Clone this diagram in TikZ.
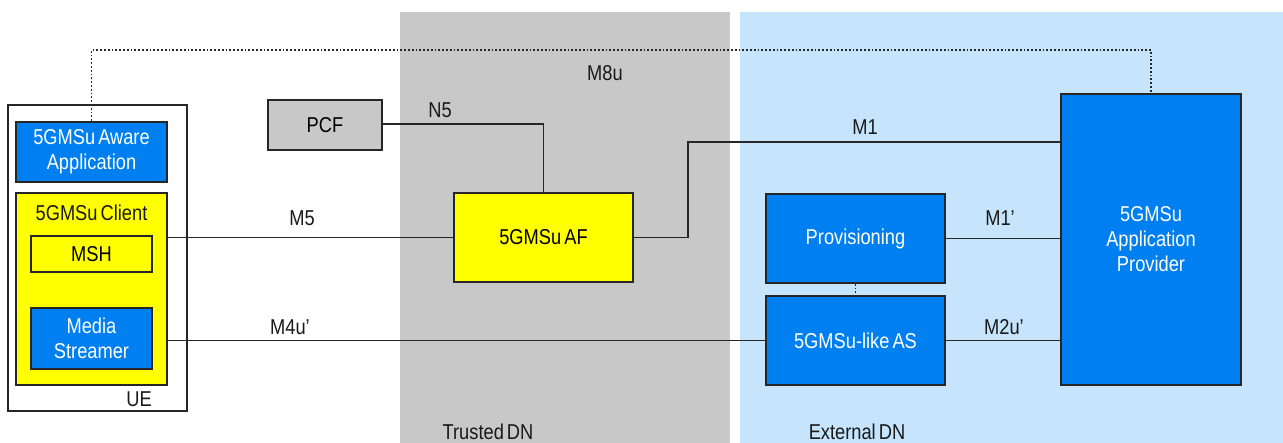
\documentclass[tikz,border=0pt]{standalone}
\usepackage{fontspec}
\setmainfont{Liberation Sans}[FakeStretch=0.85,WordSpace=0.6]
\definecolor{msblue}{RGB}{0,128,240}
\definecolor{bandblue}{RGB}{198,228,252}
\definecolor{bandgray}{RGB}{200,200,200}
\definecolor{boxgray}{RGB}{200,200,200}
\definecolor{msyellow}{RGB}{255,255,0}
\begin{document}
\begin{tikzpicture}[x=1pt,y=-1pt,
  font=\fontsize{21.5}{25}\selectfont,
  box/.style={draw=black!85,line width=1.8pt,inner sep=0pt,align=center},
  bluebox/.style={box,fill=msblue,text=white},
  yellowbox/.style={box,fill=msyellow},
  link/.style={draw=black!85,line width=1.8pt},
  dotlink/.style={draw=black!85,line width=1.8pt,dotted},
  lbl/.style={inner sep=0pt,text=black!90}]
\useasboundingbox (0,0) rectangle (1283,443);
% bands
\fill[bandgray] (400,12) rectangle (730,443);
\fill[bandblue] (740,12) rectangle (1283,443);
\node[lbl] (trusted) at (488,432) {Trusted DN};
\node[lbl] (external) at (857,432) {External DN};
% UE
\node[box,fill=white,minimum width=179,minimum height=306] (ue) at (97.5,258) {};
\node[lbl] (uelbl) at (139,399) {UE};
\node[bluebox,minimum width=151,minimum height=60] (app) at (91.5,152) {5GMSu Aware\\Application};
\node[yellowbox,minimum width=151,minimum height=192] (client) at (91.5,289) {};
\node[lbl] (clientlbl) at (91.5,213) {5GMSu Client};
\node[yellowbox,minimum width=121,minimum height=36] (msh) at (91.5,254) {MSH};
\node[bluebox,minimum width=121,minimum height=61] (ms) at (91.5,338.5) {Media\\Streamer};
% core
\node[box,fill=boxgray,minimum width=114,minimum height=50] (pcf) at (325,125) {PCF};
\node[yellowbox,minimum width=179,minimum height=89] (af) at (543.5,237.5) {5GMSu AF};
\node[bluebox,minimum width=179,minimum height=89] (prov) at (855.5,238.5) {Provisioning};
\node[bluebox,minimum width=179,minimum height=89] (as) at (855.5,340.5) {5GMSu-like AS};
\node[bluebox,minimum width=180,minimum height=291] (ap) at (1151,239.5) {5GMSu\\Application\\Provider};
% connectors
\coordinate (m8a) at (91.5,50);
\draw[dotlink] (app.north) -- (m8a) -| (ap.north);
\node[lbl] (m8u) at (605,73) {M8u};
\draw[link] (pcf.east |- 0,124) -| (af.north);
\node[lbl] (n5) at (440,110) {N5};
\draw[link] (client.east |- af.west) -- (af.west);
\node[lbl] (m5) at (302,218) {M5};
\coordinate (m1a) at (688,237.5);
\coordinate (m1b) at (688,142);
\draw[link] (af.east) -- (m1a) -- (m1b) -- (ap.west |- m1b);
\node[lbl] (m1) at (865,127) {M1};
\draw[link] (prov.east) -- (ap.west |- prov.east);
\node[lbl] (m1p) at (1000,218) {M1’};
\draw[link] (as.east) -- (ap.west |- as.east);
\node[lbl] (m2u) at (1004,327) {M2u’};
\draw[link] (client.east |- as.west) -- (as.west);
\node[lbl] (m4u) at (290,327) {M4u’};
\draw[dotlink] (prov.south) -- (as.north);
\end{tikzpicture}
\end{document}
